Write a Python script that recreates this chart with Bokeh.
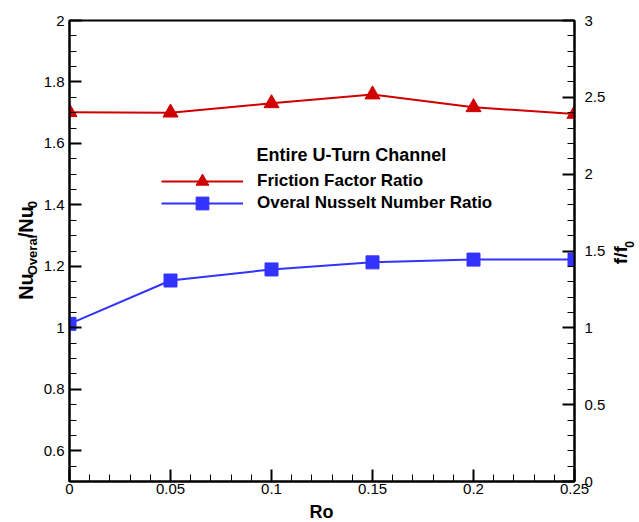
import math
from bokeh.plotting import figure
from bokeh.layouts import row, column
from bokeh.models import (Range1d, LinearAxis, SingleIntervalTicker, CustomJSTickFormatter,
                          Legend, LegendItem, Label)
from bokeh.core.properties import value
from bokeh.embed import file_html
from bokeh.resources import INLINE

# ---- data ----
ro = [0.0, 0.05, 0.10, 0.15, 0.20, 0.25]
nu_ratio = [1.013, 1.154, 1.190, 1.213, 1.222, 1.222]      # left axis
f_ratio = [2.403, 2.400, 2.461, 2.518, 2.435, 2.392]       # right axis
legend_title = "Entire U-Turn Channel"
label_f = "Friction Factor Ratio"
label_nu = "Overal Nusselt Number Ratio"
x_title = "Ro"

RED = "#d00000"
BLUE = "#3333ff"
FONT = "Liberation Sans"
MID = 0.3465   # distance from alphabetic baseline to em-box middle, in em

W, H = 639, 522
LW, RX, BH = 40, 608, 22            # left strip width, right strip start, bottom strip height
TOP_H = H - BH                      # height of the top row
FL, FR, FT, FB = 68, 574, 20, 481   # frame edges in canvas px

# ---------- main figure ----------
p = figure(width=RX - LW, height=TOP_H, output_backend="svg", toolbar_location=None,
           x_range=Range1d(0, 0.25), y_range=Range1d(0.5, 2.0),
           min_border_left=FL - LW, min_border_right=RX - FR,
           min_border_top=FT, min_border_bottom=TOP_H - FB,
           x_axis_location=None, y_axis_location=None)
p.extra_y_ranges = {"f": Range1d(0, 3)}
p.grid.visible = False
p.outline_line_color = "black"
p.outline_line_width = 2
p.background_fill_color = "white"
p.border_fill_color = "white"

fmt = CustomJSTickFormatter(code="return String(parseFloat(tick.toFixed(3)))")

def style_axis(ax, standoff):
    ax.axis_line_width = 2
    ax.axis_line_color = "black"
    ax.major_tick_in = 12
    ax.major_tick_out = 0
    ax.minor_tick_in = 7
    ax.minor_tick_out = 0
    ax.major_tick_line_width = 2
    ax.minor_tick_line_width = 1
    ax.major_label_text_font = FONT
    ax.major_label_text_font_size = "15px"
    ax.major_label_text_color = "black"
    ax.major_label_standoff = standoff
    ax.formatter = fmt

xax = LinearAxis(ticker=SingleIntervalTicker(interval=0.05, num_minor_ticks=5))
style_axis(xax, 2)
p.add_layout(xax, "below")

yl = LinearAxis(ticker=SingleIntervalTicker(interval=0.2, num_minor_ticks=4))
style_axis(yl, 5)
p.add_layout(yl, "left")

yr = LinearAxis(y_range_name="f", ticker=SingleIntervalTicker(interval=0.5, num_minor_ticks=5))
style_axis(yr, 10)
p.add_layout(yr, "right")

lf = p.line(ro, f_ratio, y_range_name="f", line_color=RED, line_width=2)
sf = p.scatter(ro, f_ratio, y_range_name="f", marker="triangle", size=15,
               fill_color=RED, line_color=RED)
ln = p.line(ro, nu_ratio, line_color=BLUE, line_width=2)
sn = p.scatter(ro, nu_ratio, marker="square", size=13, fill_color=BLUE, line_color=BLUE)

def one_legend(label, rends, center_py):
    gh = 32
    bottom_py = center_py + gh / 2
    lg = Legend(items=[LegendItem(label=label, renderers=rends)],
                location=(160 - FL, int(round(FB - bottom_py))),
                glyph_width=82, glyph_height=gh, label_height=gh, label_standoff=14,
                spacing=0, padding=0, margin=0,
                border_line_color=None, background_fill_alpha=0,
                label_text_font=FONT, label_text_font_style="bold",
                label_text_font_size="17px", label_text_color="black")
    p.add_layout(lg, "center")

one_legend(label_f, [lf, sf], 181.5)
one_legend(label_nu, [ln, sn], 202.5)

p.add_layout(Label(x=256 - LW, y=161 - MID * 18, x_units="canvas", y_units="canvas",
                   text=legend_title, text_font=FONT, text_font_style="bold",
                   text_font_size="18px", text_color="black",
                   text_align="left", text_baseline="middle"))

# ---------- text strips (frame = whole strip, 1 unit = 1 px) ----------
def strip(w, h):
    s = figure(width=w, height=h, output_backend="svg", toolbar_location=None,
               x_range=Range1d(0, w), y_range=Range1d(0, h), min_border=0,
               x_axis_location=None, y_axis_location=None)
    s.grid.visible = False
    s.outline_line_color = None
    s.background_fill_color = "white"
    s.border_fill_color = "white"
    return s

def put(s, h, x0, px, py, txt, size, angle=0.0, align="left"):
    s.text(x=[px - x0], y=[h - py], text=[txt], angle=angle,
           text_font=value(FONT), text_font_style="bold", text_font_size=f"{size}px",
           text_color="black", text_align=align, text_baseline="middle")

A = math.pi / 2

# rotated text: the baseline is on the right, the em middle lies MID*size to its left
left = strip(LW, TOP_H)
yy = 303.0
put(left, TOP_H, 0, 32 - MID * 20, yy, "Nu", 20, A); yy -= 26.7
put(left, TOP_H, 0, 37 - MID * 13, yy, "Overal", 13, A); yy -= 40.5
put(left, TOP_H, 0, 32 - MID * 20, yy, "/", 20, A); yy -= 5.6
put(left, TOP_H, 0, 32 - MID * 20, yy, "Nu", 20, A); yy -= 26.7
put(left, TOP_H, 0, 37 - MID * 13, yy, "0", 13, A)

right = strip(W - RX, TOP_H)
yy = 264.3
put(right, TOP_H, RX, 627 - MID * 19, yy, "f/f", 19, A); yy -= 17.9
put(right, TOP_H, RX, 633 - MID * 12, yy, "0", 12, A)

# x title centred in the bottom strip
bottom = strip(W, BH)
put(bottom, H, 0, 321, TOP_H + BH / 2, x_title, 18, 0.0, "center")

layout = column(row(left, p, right, spacing=0), bottom, spacing=0)

open("out.html", "w").write(file_html(layout, INLINE))
